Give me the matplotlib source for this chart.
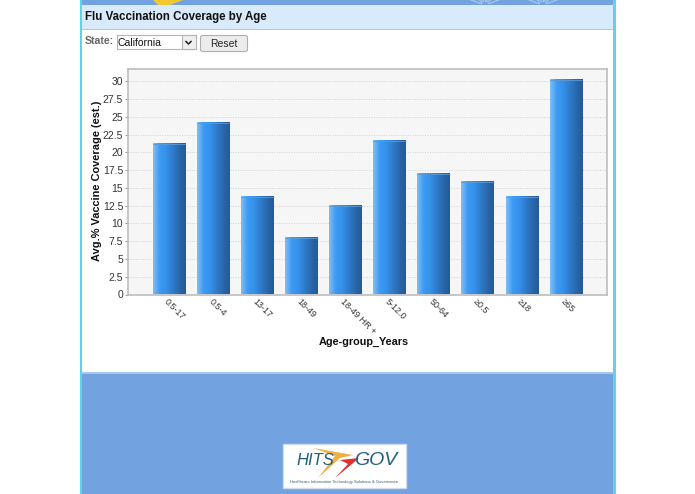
import numpy as np
import matplotlib
matplotlib.use("Agg")
import matplotlib.pyplot as plt
from matplotlib.colors import LinearSegmentedColormap
from matplotlib.patches import Rectangle, FancyBboxPatch, Polygon
from matplotlib.transforms import ScaledTranslation

# Data
age_groups = ["0.5-17", "0.5-4", "13-17", "18-49", "18-49 HR +", "5-12.0", "50-64", "≥0.5", "≥18", "≥65"]
coverage = [21.2, 24.2, 13.7, 8.0, 12.5, 21.6, 17.0, 15.8, 13.7, 30.2]
y_ticks = [0, 2.5, 5, 7.5, 10, 12.5, 15, 17.5, 20, 22.5, 25, 27.5, 30]
y_tick_labels = ["0", "2.5", "5", "7.5", "10", "12.5", "15", "17.5", "20", "22.5", "25", "27.5", "30"]

W, H = 695, 494
plt.rcParams["font.family"] = ["Liberation Sans", "DejaVu Sans"]

fig = plt.figure(figsize=(W / 100, H / 100), dpi=100, facecolor="white")

# Page behind the chart, in pixel coordinates
page = fig.add_axes([0, 0, 1, 1], zorder=0)
page.set_xlim(0, W)
page.set_ylim(H, 0)
page.axis("off")


def box(x0, y0, x1, y1, color):
    page.add_patch(Rectangle((x0, y0), x1 - x0, y1 - y0, fc=color, ec="none"))


box(80, 0, 616, 494, "#5fd3ea")
box(82, 0, 613, 494, "#72a3e0")
box(82, 5, 613, 29, "#d8eafc")
box(82, 29, 613, 30, "#a9cbe8")
box(82, 30, 613, 372, "white")
box(82, 372, 613, 374, "#a8c8ee")

# Yellow tip and faint sun rays at the top of the page
page.add_patch(Polygon([[153, 0], [183, 0], [170, 5], [158, 5]], fc="#f2c832", ec="none"))
for cx in (485, 543):
    for ang in np.linspace(20, 160, 7):
        dx, dy = np.cos(np.radians(ang)), np.sin(np.radians(ang))
        page.plot([cx + 4 * dx, cx + 15 * dx], [5 - 4 * dy, 5 - 15 * dy], color="#a9c6ec", lw=0.9)

page.text(85, 17, "Flu Vaccination Coverage by Age", fontsize=8.3, fontweight="bold",
          color="#111111", va="center", ha="left")
page.text(85, 41.5, "State:", fontsize=7.6, fontweight="bold", color="#666666", va="center")

# Select box and reset button
page.add_patch(Rectangle((116.5, 35.5), 79, 14, fc="white", ec="#b5b5b5", lw=0.8))
page.add_patch(Rectangle((181.5, 35.5), 14, 14, fc="#efefef", ec="#b5b5b5", lw=0.8))
page.plot([186, 188.5, 191], [41.5, 44, 41.5], color="#222222", lw=1.1)
page.text(118, 42.5, "California", fontsize=7.5, color="#111111", va="center")
page.add_patch(FancyBboxPatch((200.5, 35.5), 47, 16, boxstyle="round,pad=0,rounding_size=2",
                              fc="#ececec", ec="#b0b0b0", lw=0.8))
page.text(224, 44, "Reset", fontsize=7.5, color="#222222", va="center", ha="center")

# Logo
page.add_patch(Rectangle((282.5, 443.5), 123, 44, fc="white", ec="#cfdcf0", lw=1))
page.text(315, 460, "HITS", fontsize=12, style="italic", color="#1f5f80", ha="center", va="center")
page.text(376, 460, "GOV", fontsize=14, style="italic", color="#1f5f80", ha="center", va="center")
page.add_patch(Polygon([[313, 448], [353, 455], [340, 458], [318, 478], [335, 456]], fc="#f0b040", ec="none"))
page.add_patch(Polygon([[340, 460], [359, 458], [352, 464], [335, 478], [348, 464]], fc="#e03030", ec="none"))
page.text(344, 482, "Healthcare Information Technology Solutions & Governance", fontsize=3.0,
          color="#3a5a78", ha="center", va="center")

# The chart itself
ax = fig.add_axes([128 / W, 1 - 294.5 / H, (607 - 128) / W, (294.5 - 69) / H], zorder=1)
ax.set_facecolor("#f6f6f6")
x = np.arange(len(age_groups))

ax.set_axisbelow(True)
ax.grid(axis="y", color="#d4d4d4", linestyle=(0, (1, 1.5)), linewidth=0.7)

bar_cmap = LinearSegmentedColormap.from_list(
    "bar", ["#7fbdf5", "#3d9bf3", "#3590ea", "#2f7ccb", "#2a68ac", "#245a98"])
gradient = np.linspace(0, 1, 64).reshape(1, -1)
bar_width = 0.74

bars = ax.bar(x, coverage, width=bar_width, color="none", edgecolor="none", zorder=2)
for bar in bars:
    ax.imshow(gradient, cmap=bar_cmap, aspect="auto", zorder=2,
              extent=(bar.get_x(), bar.get_x() + bar.get_width(), 0, bar.get_height()))
    ax.plot([bar.get_x(), bar.get_x() + bar.get_width()], [bar.get_height()] * 2,
            color="#5b9ad8", lw=0.6, zorder=3, solid_capstyle="butt")
ax.set_xlim(-0.93, 9.93)
ax.set_ylim(0, 31.75)

ax.set_yticks(y_ticks)
ax.set_yticklabels(y_tick_labels, fontsize=7.5, color="#333333")
ax.set_xticks(x)
ax.set_xticklabels(age_groups, fontsize=6.5, color="#333333", rotation=-45,
                   ha="left", va="top", rotation_mode="anchor")
shift = ScaledTranslation(-5 / 100, 0, fig.dpi_scale_trans)
for label in ax.get_xticklabels():
    label.set_transform(label.get_transform() + shift)
ax.tick_params(axis="y", length=2, width=0.6, color="#888888", pad=1.5)
ax.tick_params(axis="x", length=0, pad=2)
for side in ax.spines.values():
    side.set_color("#bdbdbd")
    side.set_linewidth(1.2)

page.text(97, 180.5, "Avg.% Vaccine Coverage (est.)", fontsize=7.9, fontweight="bold", color="#111111",
          rotation=90, ha="center", va="center")
page.text(363.5, 342, "Age-group_Years", fontsize=7.8, fontweight="bold", color="#111111",
          ha="center", va="center")

fig.savefig("out.png", dpi=100)
